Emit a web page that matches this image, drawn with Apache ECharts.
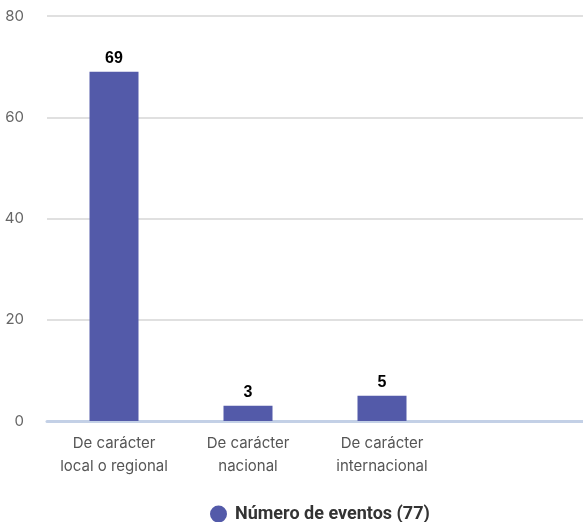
<!DOCTYPE html>
<html><head><meta charset="utf-8">
<script src="https://cdn.jsdelivr.net/npm/echarts@6/dist/echarts.min.js"></script>
<style>html,body{margin:0;padding:0;background:#fff}#c{width:583px;height:522px}</style>
</head><body><div id="c"></div>
<script>
const categories = ['De carácter\nlocal o regional', 'De carácter\nnacional', 'De carácter\ninternacional', ''];
const values = [69, 3, 5, null];
const seriesName = 'Número de eventos (77)';
const yTicks = [0, 20, 40, 60, 80];

const chart = echarts.init(document.getElementById('c'));
chart.setOption({
  animation: false,
  grid: { left: 47, right: 0, top: 16, bottom: 101, containLabel: false },
  legend: {
    left: 205, top: 500,
    icon: 'circle', itemWidth: 17, itemHeight: 17, itemGap: 10,
    textStyle: { fontFamily: 'Roboto', fontWeight: 'bold', fontSize: 18, color: '#333', padding: [0, 0, 0, 3] },
    data: [seriesName]
  },
  xAxis: {
    type: 'category', data: categories,
    axisLine: { lineStyle: { color: '#c3d0e6', width: 3 } },
    axisTick: { show: false },
    axisLabel: { color: '#555', fontFamily: 'Inter', fontSize: 15, lineHeight: 23, margin: 11, interval: 0 }
  },
  yAxis: {
    type: 'value', min: yTicks[0], max: yTicks[yTicks.length - 1], interval: 20,
    axisLabel: { color: '#666', fontFamily: 'Inter', fontSize: 15, margin: 23 },
    splitLine: { lineStyle: { color: '#e0e0e0', width: 2 } },
    axisLine: { show: false }, axisTick: { show: false }
  },
  series: [{
    name: seriesName, type: 'bar', data: values, barWidth: 49,
    itemStyle: { color: '#535aa9' },
    label: { show: true, position: 'top', distance: 5, color: '#000', fontWeight: 'bold', fontSize: 16, fontFamily: 'Liberation Sans' }
  }]
});
</script></body></html>
